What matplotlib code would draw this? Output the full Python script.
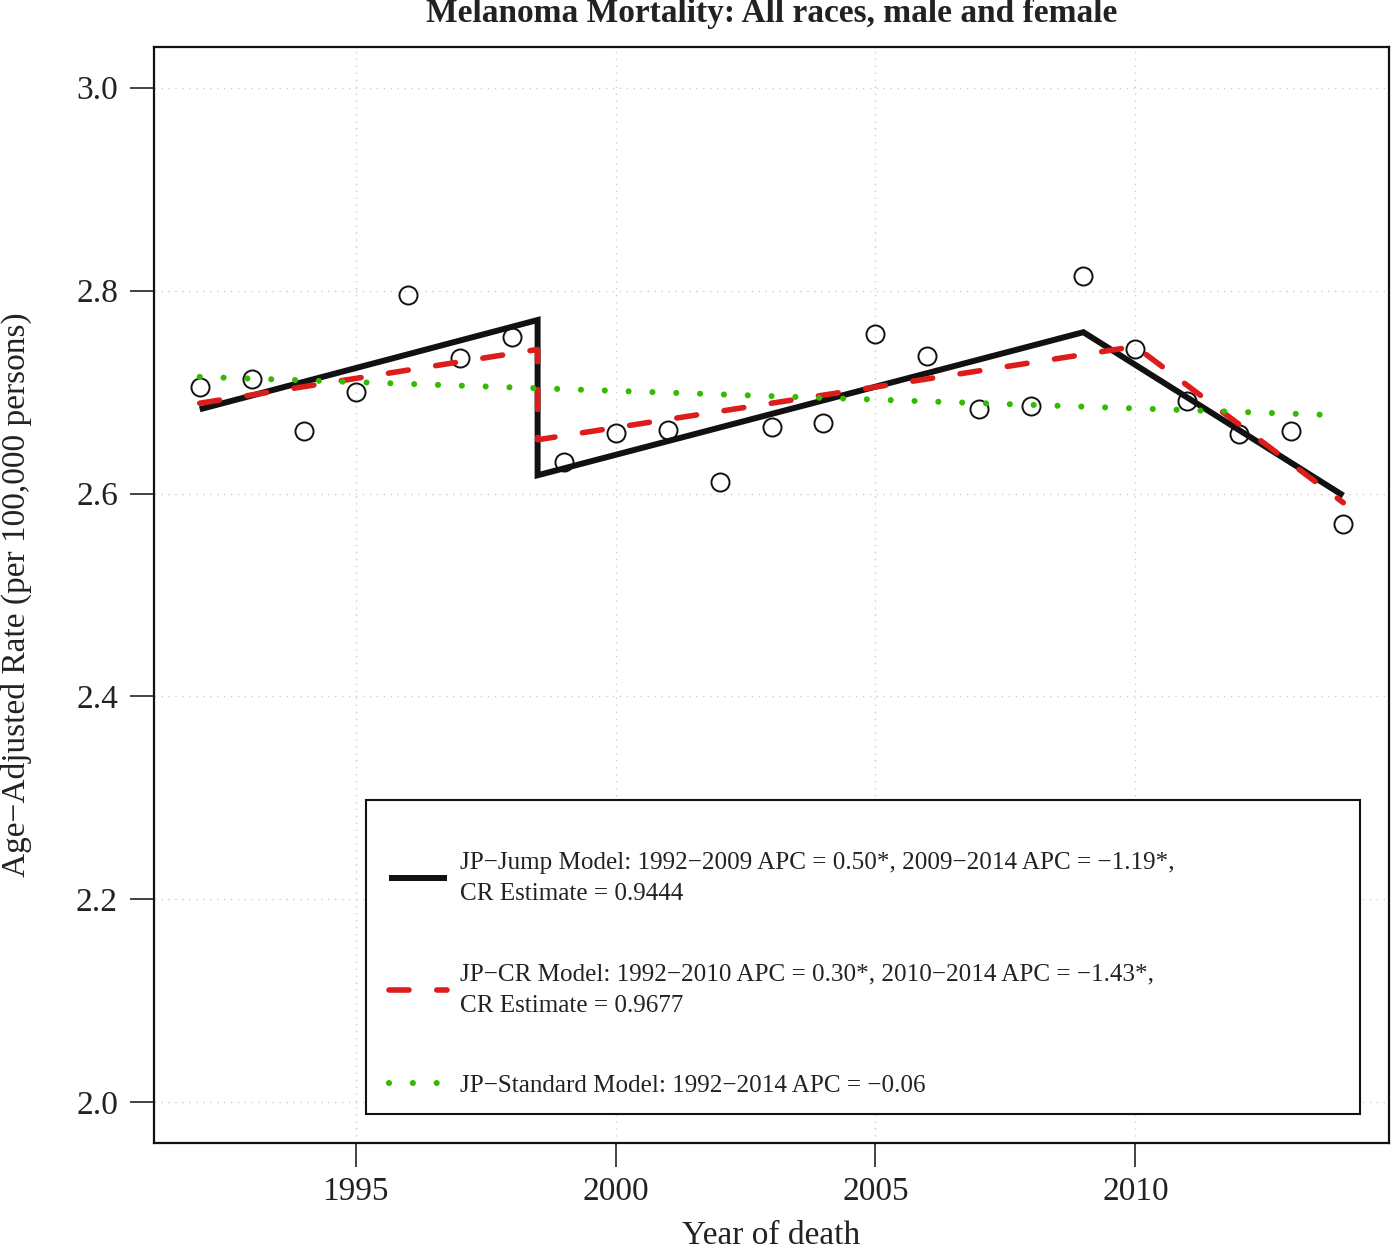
import matplotlib
matplotlib.use("Agg")
import matplotlib.pyplot as plt
from matplotlib.lines import Line2D
from matplotlib.patches import Rectangle

plt.rcParams["font.family"] = ["Liberation Serif", "DejaVu Serif"]

# observed age-adjusted rates
years = list(range(1992, 2015))
rates = [2.705, 2.713, 2.662, 2.700, 2.796, 2.734, 2.754, 2.631, 2.660, 2.663,
         2.611, 2.666, 2.670, 2.757, 2.736, 2.683, 2.686, 2.814, 2.742, 2.691,
         2.659, 2.662, 2.570]

# fitted model vertices
jump_x = [1992, 1998.5, 1998.5, 2009, 2014]
jump_y = [2.683, 2.771, 2.618, 2.759, 2.598]
cr_x = [1992, 1998.5, 1998.5, 2010, 2014]
cr_y = [2.689, 2.742, 2.653, 2.745, 2.591]
std_x = [1992, 2014]
std_y = [2.715, 2.677]

labels = [
    "JP\u2212Jump Model: 1992\u22122009 APC = 0.50*, 2009\u22122014 APC = \u22121.19*,\nCR Estimate = 0.9444",
    "JP\u2212CR Model: 1992\u22122010 APC = 0.30*, 2010\u22122014 APC = \u22121.43*,\nCR Estimate = 0.9677",
    "JP\u2212Standard Model: 1992\u22122014 APC = \u22120.06",
]

xticks = [1995, 2000, 2005, 2010]
yticks = [2.0, 2.2, 2.4, 2.6, 2.8, 3.0]

black = "#111111"
text_col = "#222222"
red = "#dd1c1c"
green = "#33bb00"

fig = plt.figure(figsize=(13.93, 12.6), dpi=100)
ax = fig.add_axes([0.11055, 0.09286, 0.8866, 0.8698])

ax.set_xlim(1991.12, 2014.88)
ax.set_ylim(1.96, 3.04)
ax.set_xticks(xticks)
ax.set_yticks(yticks)
ax.set_yticklabels([f"{v:.1f}" for v in yticks])

ax.grid(True, color="#cccccc", linestyle=(0, (1, 4)), linewidth=1.0)
ax.set_axisbelow(True)

ax.plot(years, rates, linestyle="none", marker="o", markersize=13,
        markerfacecolor="none", markeredgecolor=black, markeredgewidth=1.4, zorder=3)

jump_style = dict(color=black, linewidth=4.3, solid_capstyle="butt", solid_joinstyle="miter")
cr_style = dict(color=red, linewidth=4.0, dashes=(3.6, 5.0), dash_capstyle="round")
std_style = dict(color=green, linewidth=4.4, dashes=(0.001, 3.9), dash_capstyle="round")

ax.plot(jump_x, jump_y, zorder=4, **jump_style)
ax.plot(cr_x, cr_y, zorder=5, **cr_style)
ax.plot(std_x, std_y, zorder=6, **std_style)

for side in ax.spines.values():
    side.set_linewidth(1.6)
    side.set_color(black)

ax.tick_params(axis="both", direction="out", length=17, width=1.1, color=black,
               labelsize=24, labelcolor=text_col)
ax.tick_params(axis="x", pad=7)
ax.tick_params(axis="y", pad=9)

# x label placed in figure pixels so it sits just above the bottom edge
fig.text(771.5 / 1393, 1 - 1236 / 1260, "Year of death", ha="center", va="center",
         fontsize=24, color=text_col)
ax.set_ylabel("Age\u2212Adjusted Rate (per 100,000 persons)", fontsize=24, color=text_col)
ax.yaxis.set_label_coords(-0.099, 0.5)

ax.text(0.5, 1.0 + 34 / 1096, "Melanoma Mortality: All races, male and female",
        transform=ax.transAxes, ha="center", va="center", fontsize=24,
        fontweight="bold", color=text_col)

# legend box
ax.add_patch(Rectangle((0.17166, 0.02646), 0.80486, 0.2865, transform=ax.transAxes,
                       facecolor="white", edgecolor=black, linewidth=1.5, zorder=7))

handles = [
    Line2D([], [], **jump_style),
    Line2D([], [], **cr_style),
    Line2D([], [], **std_style),
]
leg = ax.legend(handles, labels, loc="upper left", bbox_to_anchor=(0.1903, 0.2655),
                fontsize=18.1, handlelength=2.3, handletextpad=0.52, labelspacing=2.3,
                borderpad=0.0, borderaxespad=0.0, frameon=False)
leg.set_zorder(8)
for t in leg.get_texts():
    t.set_color(text_col)
    t.set_linespacing(1.55)

fig.savefig("out.png", dpi=100)
